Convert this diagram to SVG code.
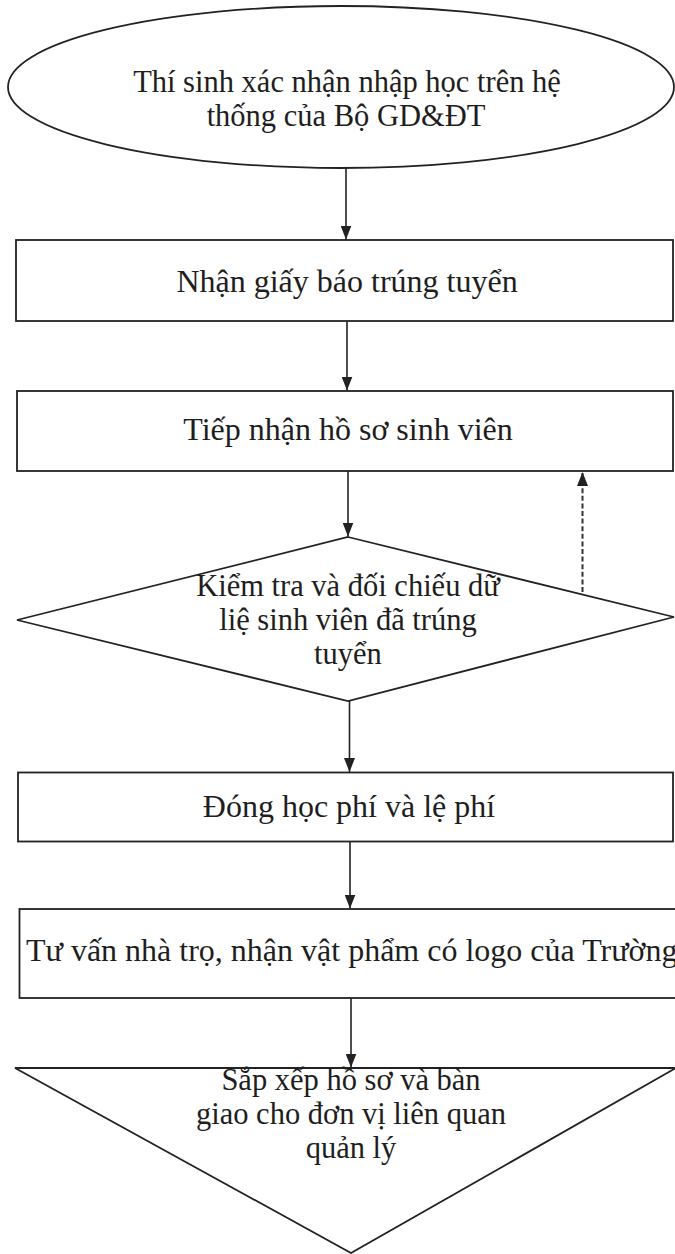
<svg xmlns="http://www.w3.org/2000/svg" width="675" height="1254" viewBox="0 0 675 1254">
  <style>
    .shape { fill: #ffffff; stroke: #222222; stroke-width: 1.8; }
    .conn { fill: none; stroke: #222222; stroke-width: 1.6; }
    .dash { fill: none; stroke: #333333; stroke-width: 2; stroke-dasharray: 5 2.6; }
    .lbl { font-family: "Liberation Serif", "Times New Roman", serif; font-size: 32px; fill: #1e1e1e; text-anchor: middle; }
    .lbl-multi { font-family: "Liberation Serif", "Times New Roman", serif; font-size: 30.5px; fill: #1e1e1e; text-anchor: middle; }
    .lbl-start { font-family: "Liberation Serif", "Times New Roman", serif; font-size: 32px; fill: #1e1e1e; text-anchor: start; }
  </style>
  <defs>
    <marker id="arrow" markerUnits="userSpaceOnUse" markerWidth="14" markerHeight="11" refX="14" refY="5.5" orient="auto">
      <path d="M0,0 L14,5.5 L0,11 Z" fill="#222222"/>
    </marker>
  </defs>
  <rect x="0" y="0" width="675" height="1254" fill="#ffffff"/>

  <g id="node-start">
    <ellipse class="shape" cx="341" cy="87" rx="333" ry="81"/>
    <text class="lbl-multi" x="347" y="92">Thí sinh xác nhận nhập học trên hệ</text>
    <text class="lbl-multi" x="346" y="126">thống của Bộ GD&amp;ĐT</text>
  </g>

  <g id="node-nhan-giay">
    <rect class="shape" x="16" y="240" width="657" height="81"/>
    <text class="lbl" x="347" y="292">Nhận giấy báo trúng tuyển</text>
  </g>

  <g id="node-tiep-nhan">
    <rect class="shape" x="17" y="391" width="656" height="80"/>
    <text class="lbl" x="348" y="440">Tiếp nhận hồ sơ sinh viên</text>
  </g>

  <g id="node-kiem-tra">
    <polygon class="shape" points="348,537 674,617 348,701 17,620"/>
    <text class="lbl-multi" x="348" y="596">Kiểm tra và đối chiếu dữ</text>
    <text class="lbl-multi" x="348" y="630">liệ sinh viên đã trúng</text>
    <text class="lbl-multi" x="348" y="664">tuyển</text>
  </g>

  <g id="node-dong-hoc-phi">
    <rect class="shape" x="18" y="772.5" width="655" height="69"/>
    <text class="lbl" x="349" y="817">Đóng học phí và lệ phí</text>
  </g>

  <g id="node-tu-van">
    <rect class="shape" x="19.5" y="909" width="660" height="89"/>
    <text class="lbl-start" x="26" y="961">Tư vấn nhà trọ, nhận vật phẩm có logo của Trường</text>
  </g>

  <g id="node-sap-xep">
    <polygon class="shape" points="15,1068 676,1068 351,1253"/>
    <text class="lbl-multi" x="351" y="1090">Sắp xếp hồ sơ và bàn</text>
    <text class="lbl-multi" x="351" y="1124">giao cho đơn vị liên quan</text>
    <text class="lbl-multi" x="351" y="1158">quản lý</text>
  </g>

  <g id="connectors">
    <line class="conn" x1="346" y1="168" x2="346" y2="239.5" marker-end="url(#arrow)"/>
    <line class="conn" x1="347" y1="321" x2="347" y2="390.5" marker-end="url(#arrow)"/>
    <line class="conn" x1="348" y1="471" x2="348" y2="536.5" marker-end="url(#arrow)"/>
    <line class="conn" x1="349.5" y1="701" x2="349.5" y2="772" marker-end="url(#arrow)"/>
    <line class="conn" x1="350" y1="841.5" x2="350" y2="908.5" marker-end="url(#arrow)"/>
    <line class="conn" x1="351" y1="998" x2="351" y2="1067.5" marker-end="url(#arrow)"/>
    <line class="dash" x1="582.5" y1="592" x2="582.5" y2="472" marker-end="url(#arrow)"/>
  </g>
</svg>
